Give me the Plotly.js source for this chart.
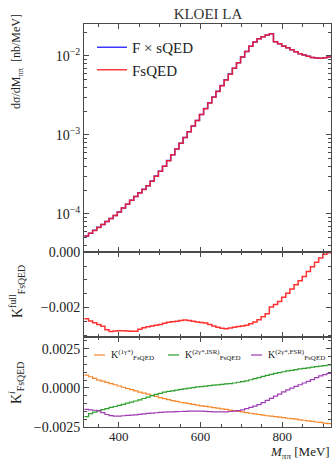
<!DOCTYPE html>
<html>
<head>
<meta charset="utf-8">
<script src="https://cdn.plot.ly/plotly-3.0.1.min.js"></script>
<style>html,body{margin:0;padding:0;background:#fff;}#chart{width:332px;height:462px;}</style>
</head>
<body>
<div id="chart"></div>
<script>
// bin edges in M_pipi [MeV]
const binEdges = [316.00,326.05,336.10,346.15,356.20,366.25,376.30,386.35,396.40,406.45,416.50,426.55,436.60,446.65,456.70,466.75,476.80,486.85,496.90,506.95,517.00,527.05,537.10,547.15,557.20,567.25,577.30,587.35,597.40,607.45,617.50,627.55,637.60,647.65,657.70,667.75,677.80,687.85,697.90,707.95,718.00,728.05,738.10,748.15,758.20,768.25,778.30,788.35,798.40,808.45,818.50,828.55,838.60,848.65,858.70,868.75,878.80,888.85,898.90,908.95,919.00];

// dsigma/dM [nb/MeV]
const fsqed = [5.26e-5,5.71e-5,6.19e-5,6.76e-5,7.36e-5,8.02e-5,8.75e-5,9.53e-5,1.06e-4,1.19e-4,1.33e-4,1.49e-4,1.66e-4,1.84e-4,2.04e-4,2.27e-4,2.60e-4,3.01e-4,3.47e-4,4.01e-4,4.73e-4,5.60e-4,6.62e-4,7.83e-4,9.27e-4,1.10e-3,1.30e-3,1.53e-3,1.82e-3,2.15e-3,2.54e-3,3.01e-3,3.56e-3,4.21e-3,4.98e-3,5.89e-3,6.97e-3,8.20e-3,9.68e-3,1.14e-2,1.33e-2,1.50e-2,1.65e-2,1.75e-2,1.84e-2,1.91e-2,1.51e-2,1.43e-2,1.34e-2,1.27e-2,1.20e-2,1.13e-2,1.07e-2,1.03e-2,9.91e-3,9.59e-3,9.46e-3,9.35e-3,9.51e-3,9.68e-3];
const fxsqed = [5.27e-5,5.72e-5,6.21e-5,6.78e-5,7.38e-5,8.04e-5,8.78e-5,9.56e-5,1.06e-4,1.19e-4,1.33e-4,1.49e-4,1.66e-4,1.85e-4,2.05e-4,2.28e-4,2.61e-4,3.02e-4,3.48e-4,4.02e-4,4.74e-4,5.61e-4,6.64e-4,7.85e-4,9.29e-4,1.10e-3,1.30e-3,1.53e-3,1.82e-3,2.16e-3,2.55e-3,3.02e-3,3.57e-3,4.22e-3,4.99e-3,5.91e-3,6.99e-3,8.22e-3,9.70e-3,1.14e-2,1.33e-2,1.50e-2,1.65e-2,1.75e-2,1.84e-2,1.91e-2,1.51e-2,1.43e-2,1.34e-2,1.27e-2,1.20e-2,1.13e-2,1.07e-2,1.03e-2,9.92e-3,9.60e-3,9.46e-3,9.35e-3,9.51e-3,9.68e-3];

// K^full_FsQED
const kFull = [-2.408e-3,-2.489e-3,-2.558e-3,-2.616e-3,-2.677e-3,-2.810e-3,-2.871e-3,-2.856e-3,-2.841e-3,-2.847e-3,-2.852e-3,-2.858e-3,-2.863e-3,-2.785e-3,-2.736e-3,-2.702e-3,-2.675e-3,-2.648e-3,-2.616e-3,-2.576e-3,-2.536e-3,-2.515e-3,-2.495e-3,-2.474e-3,-2.452e-3,-2.474e-3,-2.499e-3,-2.522e-3,-2.543e-3,-2.564e-3,-2.615e-3,-2.675e-3,-2.718e-3,-2.753e-3,-2.772e-3,-2.746e-3,-2.720e-3,-2.694e-3,-2.668e-3,-2.642e-3,-2.591e-3,-2.525e-3,-2.449e-3,-2.338e-3,-2.227e-3,-1.986e-3,-1.895e-3,-1.783e-3,-1.633e-3,-1.482e-3,-1.331e-3,-1.180e-3,-1.028e-3,-0.876e-3,-0.701e-3,-0.525e-3,-0.361e-3,-0.209e-3,-0.070e-3,-0.020e-3];

// K^i_FsQED components
const k1g = [0.81e-3,0.71e-3,0.61e-3,0.50e-3,0.425e-3,0.35e-3,0.27e-3,0.20e-3,0.12e-3,0.04e-3,-0.04e-3,-0.11e-3,-0.19e-3,-0.27e-3,-0.34e-3,-0.40e-3,-0.47e-3,-0.54e-3,-0.62e-3,-0.69e-3,-0.75e-3,-0.81e-3,-0.86e-3,-0.92e-3,-0.96e-3,-1.01e-3,-1.06e-3,-1.10e-3,-1.15e-3,-1.18e-3,-1.22e-3,-1.26e-3,-1.30e-3,-1.34e-3,-1.38e-3,-1.42e-3,-1.46e-3,-1.50e-3,-1.54e-3,-1.58e-3,-1.62e-3,-1.66e-3,-1.70e-3,-1.74e-3,-1.78e-3,-1.81e-3,-1.84e-3,-1.87e-3,-1.90e-3,-1.94e-3,-1.97e-3,-2.00e-3,-2.04e-3,-2.07e-3,-2.11e-3,-2.14e-3,-2.18e-3,-2.21e-3,-2.25e-3,-2.29e-3];
const k2gISR = [-1.84e-3,-1.64e-3,-1.55e-3,-1.45e-3,-1.39e-3,-1.32e-3,-1.25e-3,-1.19e-3,-1.12e-3,-1.05e-3,-0.98e-3,-0.91e-3,-0.84e-3,-0.77e-3,-0.68e-3,-0.59e-3,-0.50e-3,-0.42e-3,-0.35e-3,-0.27e-3,-0.23e-3,-0.19e-3,-0.15e-3,-0.10e-3,-0.06e-3,-0.02e-3,0.02e-3,0.06e-3,0.08e-3,0.11e-3,0.14e-3,0.17e-3,0.19e-3,0.22e-3,0.25e-3,0.27e-3,0.31e-3,0.36e-3,0.40e-3,0.45e-3,0.52e-3,0.59e-3,0.66e-3,0.73e-3,0.80e-3,0.86e-3,0.92e-3,0.98e-3,1.03e-3,1.08e-3,1.12e-3,1.17e-3,1.21e-3,1.24e-3,1.28e-3,1.32e-3,1.36e-3,1.39e-3,1.42e-3,1.46e-3];
const k2gFSR = [-1.38e-3,-1.40e-3,-1.43e-3,-1.47e-3,-1.58e-3,-1.70e-3,-1.77e-3,-1.80e-3,-1.80e-3,-1.78e-3,-1.76e-3,-1.74e-3,-1.72e-3,-1.69e-3,-1.66e-3,-1.63e-3,-1.61e-3,-1.59e-3,-1.57e-3,-1.55e-3,-1.54e-3,-1.53e-3,-1.52e-3,-1.51e-3,-1.50e-3,-1.49e-3,-1.48e-3,-1.48e-3,-1.49e-3,-1.50e-3,-1.52e-3,-1.53e-3,-1.54e-3,-1.54e-3,-1.53e-3,-1.51e-3,-1.48e-3,-1.45e-3,-1.41e-3,-1.33e-3,-1.25e-3,-1.17e-3,-1.07e-3,-0.94e-3,-0.80e-3,-0.67e-3,-0.53e-3,-0.40e-3,-0.26e-3,-0.13e-3,-0.01e-3,0.10e-3,0.20e-3,0.31e-3,0.42e-3,0.53e-3,0.65e-3,0.77e-3,0.85e-3,0.92e-3];

const title = "KLOEI LA";
const legendTop = ["F × sQED", "FsQED"];
const legendBottom = ["K<sup>(1γ*)</sup><sub>FsQED</sub>", "K<sup>(2γ*,ISR)</sup><sub>FsQED</sub>", "K<sup>(2γ*,FSR)</sup><sub>FsQED</sub>"];
const xTickVals = [400, 600, 800];

function stepY(v){ return v.concat([v[v.length-1]]); }

const W = 332, H = 462;
const mL = 84, mR = 1, mT = 24, mB = 35;
const PH = H - mT - mB, PW = W - mL - mR;
const py = px => (H - mB - px) / PH;   // pixel y -> paper y
const pxX = px => (px - mL) / PW;      // pixel x -> paper x

const FONT = "Liberation Serif, DejaVu Serif, serif";
const AX = "#4a4a4a";

const traces = [
  {x: binEdges, y: stepY(fxsqed), mode: "lines", line: {shape: "hv", color: "#3a3aff", width: 1.5}, name: legendTop[0], xaxis: "x3", yaxis: "y3", legend: "legend"},
  {x: binEdges, y: stepY(fsqed), mode: "lines", line: {shape: "hv", color: "#ff1a1a", width: 1.5}, opacity: 0.85, name: legendTop[1], xaxis: "x3", yaxis: "y3", legend: "legend"},
  {x: binEdges, y: stepY(kFull), mode: "lines", line: {shape: "hv", color: "#ff1a1a", width: 1.5}, opacity: 0.9, showlegend: false, xaxis: "x2", yaxis: "y2"},
  {x: binEdges, y: stepY(k1g), mode: "lines", line: {shape: "hv", color: "#f5872a", width: 1.2}, showlegend: false, xaxis: "x", yaxis: "y"},
  {x: binEdges, y: stepY(k2gISR), mode: "lines", line: {shape: "hv", color: "#2ca02c", width: 1.2}, showlegend: false, xaxis: "x", yaxis: "y"},
  {x: binEdges, y: stepY(k2gFSR), mode: "lines", line: {shape: "hv", color: "#a03cb4", width: 1.2}, showlegend: false, xaxis: "x", yaxis: "y"}
];

const commonX = {
  range: [315, 919], showline: true, linecolor: AX, linewidth: 1, mirror: "ticks",
  ticks: "inside", ticklen: 5, tickcolor: AX, tickwidth: 1,
  tickvals: xTickVals, showgrid: false, zeroline: false,
  minor: {ticks: "inside", ticklen: 3, tickcolor: AX, dtick: 50, tick0: 0, showgrid: false},
  tickfont: {family: FONT, size: 13, color: "#222"}
};
const commonY = {
  showline: true, linecolor: AX, linewidth: 1, mirror: "ticks",
  ticks: "inside", ticklen: 5, tickcolor: AX, tickwidth: 1,
  showgrid: false, zeroline: false,
  tickfont: {family: FONT, size: 14, color: "#222"}
};

const dTop = [py(252), 1], dMid = [py(337), py(252)], dBot = [0, py(337)];

const minorLog = [];
[1e-5, 1e-4, 1e-3, 1e-2].forEach(d => { for (let k = 2; k <= 9; k++) minorLog.push(k * d); });

const layout = {
  width: W, height: H,
  margin: {l: mL, r: mR, t: mT, b: mB},
  paper_bgcolor: "#fff", plot_bgcolor: "rgba(0,0,0,0)",
  font: {family: FONT, color: "#222"},
  title: {text: title, font: {family: FONT, size: 15, color: "#333"}, x: pxX(208), xref: "paper", xanchor: "center", y: 1 - 14 / H, yanchor: "middle"},
  xaxis: Object.assign({}, commonX, {anchor: "y", showticklabels: true, ticklabelstandoff: -3}),
  xaxis2: Object.assign({}, commonX, {anchor: "y2", matches: "x", showticklabels: false}),
  xaxis3: Object.assign({}, commonX, {anchor: "y3", matches: "x", showticklabels: false}),
  yaxis: Object.assign({}, commonY, {domain: dBot, range: [-0.0025, 0.00325], tickvals: [-0.0025, 0, 0.0025], tickformat: ".4f",
    minor: {ticks: "inside", ticklen: 3, tickcolor: AX, dtick: 0.0005, tick0: 0}}),
  yaxis2: Object.assign({}, commonY, {domain: dMid, range: [-0.00307, 0.00001], tickvals: [-0.002, 0], tickformat: ".3f",
    minor: {ticks: "inside", ticklen: 3, tickcolor: AX, dtick: 0.0005, tick0: 0}}),
  yaxis3: Object.assign({}, commonY, {domain: dTop, type: "log", range: [Math.log10(3.3e-5), Math.log10(0.0254)],
    tickvals: [1e-4, 1e-3, 1e-2], ticktext: ["10<sup>−4</sup>", "10<sup>−3</sup>", "10<sup>−2</sup>"],
    minor: {ticks: "inside", ticklen: 3, tickcolor: AX, tickmode: "array", tickvals: minorLog}}),
  showlegend: true,
  legend: {x: pxX(92), y: py(31), xanchor: "left", yanchor: "top", bgcolor: "rgba(255,255,255,0)", borderwidth: 0,
    font: {family: FONT, size: 15, color: "#222"}, tracegroupgap: 0, itemwidth: 30},
  annotations: [],
  shapes: []
};

// axis titles
layout.annotations.push({text: "dσ/dM<sub>ππ</sub>  [nb/MeV]", xref: "paper", yref: "paper", x: pxX(17), y: py(62), textangle: -90, showarrow: false, font: {family: FONT, size: 12, color: "#222"}, xanchor: "center", yanchor: "middle"});
layout.annotations.push({text: "K<sup>full</sup><sub>FsQED</sub>", xref: "paper", yref: "paper", x: pxX(17), y: py(292), textangle: -90, showarrow: false, font: {family: FONT, size: 14, color: "#222"}, xanchor: "center", yanchor: "middle"});
layout.annotations.push({text: "K<sup><i>i</i></sup><sub>FsQED</sub>", xref: "paper", yref: "paper", x: pxX(16), y: py(383), textangle: -90, showarrow: false, font: {family: FONT, size: 14, color: "#222"}, xanchor: "center", yanchor: "middle"});
layout.annotations.push({text: "<i>M</i><sub>ππ</sub> [MeV]", xref: "paper", yref: "paper", x: 1, y: py(462), showarrow: false, font: {family: FONT, size: 13, color: "#222"}, xanchor: "right", yanchor: "bottom", borderpad: 0});

// bottom-panel legend
const legColors = ["#f5872a", "#2ca02c", "#a03cb4"];
const legX = [94, 168, 251];
legendBottom.forEach((t, i) => {
  layout.shapes.push({type: "line", xref: "paper", yref: "paper", x0: pxX(legX[i]), x1: pxX(legX[i] + 11), y0: py(355), y1: py(355), line: {color: legColors[i], width: 1.2}});
  layout.annotations.push({text: t, xref: "paper", yref: "paper", x: pxX(legX[i] + 15), y: py(355), showarrow: false, xanchor: "left", yanchor: "middle", font: {family: FONT, size: 10, color: "#222"}});
});

Plotly.newPlot("chart", traces, layout, {displayModeBar: false, staticPlot: true});
</script>
</body>
</html>
